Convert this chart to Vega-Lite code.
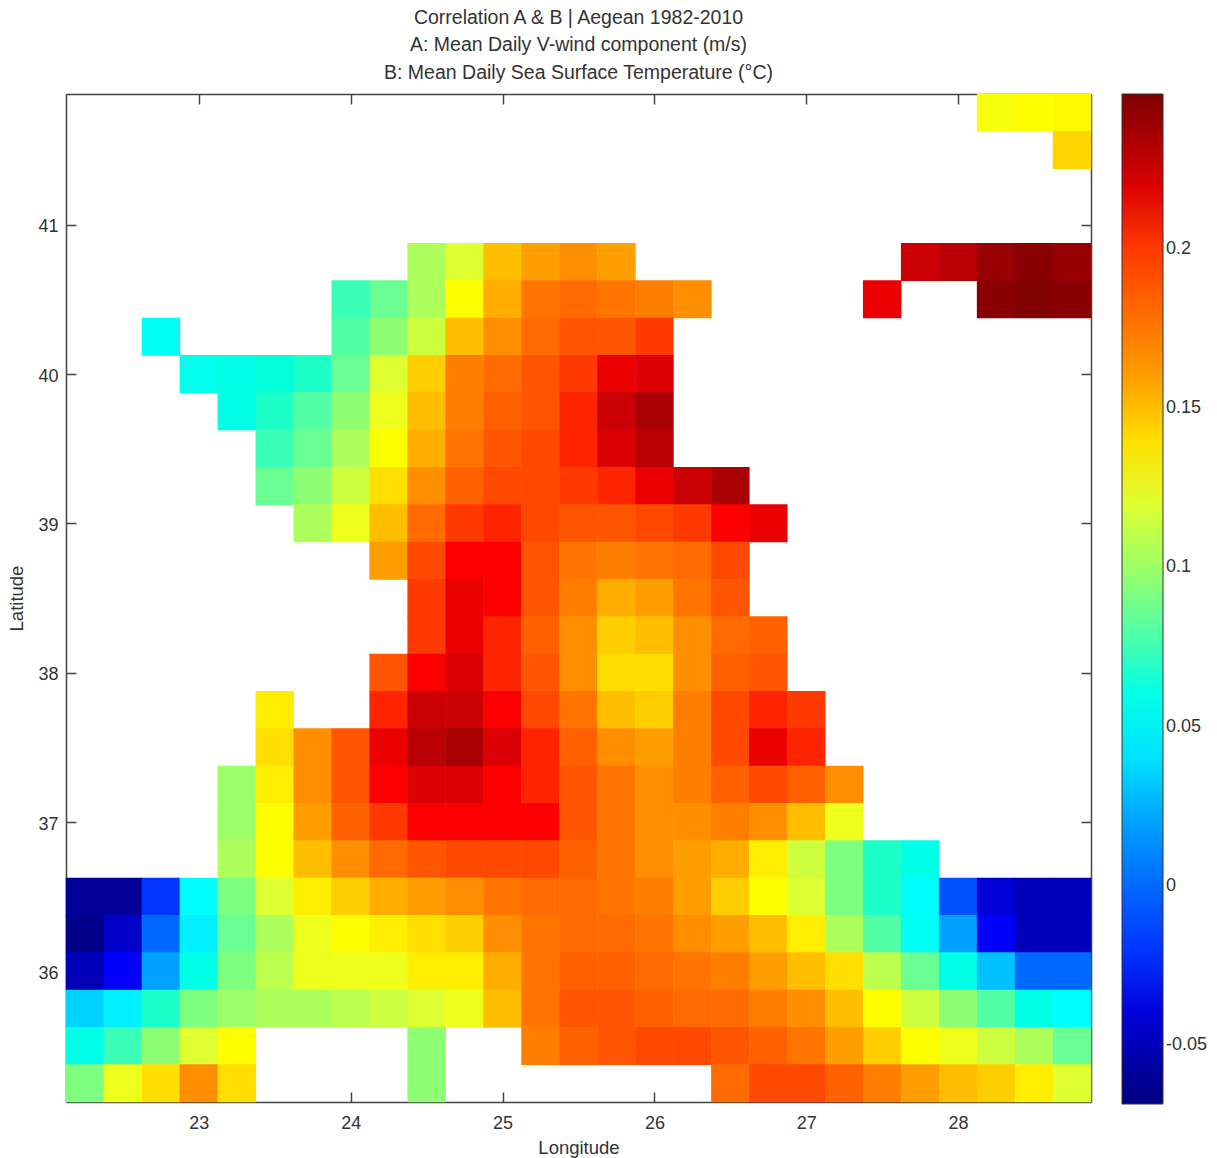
{"$schema":"https://vega.github.io/schema/vega-lite/v6.json","autosize":"none","width":1025,"height":1008,"padding":{"left":66,"top":94,"right":126,"bottom":56},"background":"white","title":{"text":["Correlation A & B | Aegean 1982-2010","A: Mean Daily V-wind component (m/s)","B: Mean Daily Sea Surface Temperature (°C)"],"font":"Liberation Sans","fontSize":19.5,"fontWeight":"normal","color":"#333333","lineHeight":27.5,"anchor":"middle","offset":10,"frame":"group"},"config":{"view":{"stroke":null},"axis":{"grid":false,"labelFont":"Liberation Sans","titleFont":"Liberation Sans","labelFontSize":18,"titleFontSize":18.5,"titleFontWeight":"normal","labelColor":"#333333","titleColor":"#333333","domainColor":"#444444","tickColor":"#444444","tickSize":-10,"domainWidth":1.5,"tickWidth":1.5}},"data":{"values":[
{"lon":28.25,"lat":41.75,"r":0.128},{"lon":28.5,"lat":41.75,"r":0.13},{"lon":28.75,"lat":41.75,"r":0.132},{"lon":28.75,"lat":41.5,"r":0.143},
{"lon":24.5,"lat":40.75,"r":0.105},{"lon":24.75,"lat":40.75,"r":0.12},{"lon":25,"lat":40.75,"r":0.15},{"lon":25.25,"lat":40.75,"r":0.16},{"lon":25.5,"lat":40.75,"r":0.165},{"lon":25.75,"lat":40.75,"r":0.16},{"lon":27.75,"lat":40.75,"r":0.225},{"lon":28,"lat":40.75,"r":0.23},{"lon":28.25,"lat":40.75,"r":0.24},{"lon":28.5,"lat":40.75,"r":0.245},{"lon":28.75,"lat":40.75,"r":0.24},
{"lon":24,"lat":40.5,"r":0.075},{"lon":24.25,"lat":40.5,"r":0.085},{"lon":24.5,"lat":40.5,"r":0.105},{"lon":24.75,"lat":40.5,"r":0.13},{"lon":25,"lat":40.5,"r":0.155},{"lon":25.25,"lat":40.5,"r":0.175},{"lon":25.5,"lat":40.5,"r":0.18},{"lon":25.75,"lat":40.5,"r":0.175},{"lon":26,"lat":40.5,"r":0.17},{"lon":26.25,"lat":40.5,"r":0.165},{"lon":27.5,"lat":40.5,"r":0.215},{"lon":28.25,"lat":40.5,"r":0.245},{"lon":28.5,"lat":40.5,"r":0.248},{"lon":28.75,"lat":40.5,"r":0.245},
{"lon":22.75,"lat":40.25,"r":0.055},{"lon":24,"lat":40.25,"r":0.08},{"lon":24.25,"lat":40.25,"r":0.095},{"lon":24.5,"lat":40.25,"r":0.115},{"lon":24.75,"lat":40.25,"r":0.15},{"lon":25,"lat":40.25,"r":0.165},{"lon":25.25,"lat":40.25,"r":0.18},{"lon":25.5,"lat":40.25,"r":0.19},{"lon":25.75,"lat":40.25,"r":0.19},{"lon":26,"lat":40.25,"r":0.2},
{"lon":23,"lat":40,"r":0.058},{"lon":23.25,"lat":40,"r":0.06},{"lon":23.5,"lat":40,"r":0.065},{"lon":23.75,"lat":40,"r":0.07},{"lon":24,"lat":40,"r":0.085},{"lon":24.25,"lat":40,"r":0.12},{"lon":24.5,"lat":40,"r":0.145},{"lon":24.75,"lat":40,"r":0.17},{"lon":25,"lat":40,"r":0.18},{"lon":25.25,"lat":40,"r":0.19},{"lon":25.5,"lat":40,"r":0.2},{"lon":25.75,"lat":40,"r":0.215},{"lon":26,"lat":40,"r":0.22},
{"lon":23.25,"lat":39.75,"r":0.06},{"lon":23.5,"lat":39.75,"r":0.07},{"lon":23.75,"lat":39.75,"r":0.08},{"lon":24,"lat":39.75,"r":0.095},{"lon":24.25,"lat":39.75,"r":0.125},{"lon":24.5,"lat":39.75,"r":0.15},{"lon":24.75,"lat":39.75,"r":0.17},{"lon":25,"lat":39.75,"r":0.185},{"lon":25.25,"lat":39.75,"r":0.19},{"lon":25.5,"lat":39.75,"r":0.205},{"lon":25.75,"lat":39.75,"r":0.225},{"lon":26,"lat":39.75,"r":0.235},
{"lon":23.5,"lat":39.5,"r":0.075},{"lon":23.75,"lat":39.5,"r":0.085},{"lon":24,"lat":39.5,"r":0.105},{"lon":24.25,"lat":39.5,"r":0.13},{"lon":24.5,"lat":39.5,"r":0.155},{"lon":24.75,"lat":39.5,"r":0.175},{"lon":25,"lat":39.5,"r":0.19},{"lon":25.25,"lat":39.5,"r":0.195},{"lon":25.5,"lat":39.5,"r":0.205},{"lon":25.75,"lat":39.5,"r":0.22},{"lon":26,"lat":39.5,"r":0.23},
{"lon":23.5,"lat":39.25,"r":0.085},{"lon":23.75,"lat":39.25,"r":0.095},{"lon":24,"lat":39.25,"r":0.115},{"lon":24.25,"lat":39.25,"r":0.14},{"lon":24.5,"lat":39.25,"r":0.165},{"lon":24.75,"lat":39.25,"r":0.185},{"lon":25,"lat":39.25,"r":0.195},{"lon":25.25,"lat":39.25,"r":0.195},{"lon":25.5,"lat":39.25,"r":0.2},{"lon":25.75,"lat":39.25,"r":0.205},{"lon":26,"lat":39.25,"r":0.215},{"lon":26.25,"lat":39.25,"r":0.225},{"lon":26.5,"lat":39.25,"r":0.235},
{"lon":23.75,"lat":39,"r":0.105},{"lon":24,"lat":39,"r":0.125},{"lon":24.25,"lat":39,"r":0.15},{"lon":24.5,"lat":39,"r":0.18},{"lon":24.75,"lat":39,"r":0.2},{"lon":25,"lat":39,"r":0.205},{"lon":25.25,"lat":39,"r":0.195},{"lon":25.5,"lat":39,"r":0.19},{"lon":25.75,"lat":39,"r":0.19},{"lon":26,"lat":39,"r":0.195},{"lon":26.25,"lat":39,"r":0.2},{"lon":26.5,"lat":39,"r":0.21},{"lon":26.75,"lat":39,"r":0.215},
{"lon":24.25,"lat":38.75,"r":0.16},{"lon":24.5,"lat":38.75,"r":0.195},{"lon":24.75,"lat":38.75,"r":0.21},{"lon":25,"lat":38.75,"r":0.21},{"lon":25.25,"lat":38.75,"r":0.19},{"lon":25.5,"lat":38.75,"r":0.175},{"lon":25.75,"lat":38.75,"r":0.17},{"lon":26,"lat":38.75,"r":0.175},{"lon":26.25,"lat":38.75,"r":0.18},{"lon":26.5,"lat":38.75,"r":0.195},
{"lon":24.5,"lat":38.5,"r":0.2},{"lon":24.75,"lat":38.5,"r":0.215},{"lon":25,"lat":38.5,"r":0.21},{"lon":25.25,"lat":38.5,"r":0.19},{"lon":25.5,"lat":38.5,"r":0.17},{"lon":25.75,"lat":38.5,"r":0.155},{"lon":26,"lat":38.5,"r":0.16},{"lon":26.25,"lat":38.5,"r":0.175},{"lon":26.5,"lat":38.5,"r":0.19},
{"lon":24.5,"lat":38.25,"r":0.2},{"lon":24.75,"lat":38.25,"r":0.215},{"lon":25,"lat":38.25,"r":0.205},{"lon":25.25,"lat":38.25,"r":0.185},{"lon":25.5,"lat":38.25,"r":0.165},{"lon":25.75,"lat":38.25,"r":0.145},{"lon":26,"lat":38.25,"r":0.15},{"lon":26.25,"lat":38.25,"r":0.165},{"lon":26.5,"lat":38.25,"r":0.18},{"lon":26.75,"lat":38.25,"r":0.185},
{"lon":24.25,"lat":38,"r":0.19},{"lon":24.5,"lat":38,"r":0.21},{"lon":24.75,"lat":38,"r":0.22},{"lon":25,"lat":38,"r":0.205},{"lon":25.25,"lat":38,"r":0.19},{"lon":25.5,"lat":38,"r":0.165},{"lon":25.75,"lat":38,"r":0.14},{"lon":26,"lat":38,"r":0.14},{"lon":26.25,"lat":38,"r":0.165},{"lon":26.5,"lat":38,"r":0.185},{"lon":26.75,"lat":38,"r":0.19},
{"lon":23.5,"lat":37.75,"r":0.135},{"lon":24.25,"lat":37.75,"r":0.205},{"lon":24.5,"lat":37.75,"r":0.225},{"lon":24.75,"lat":37.75,"r":0.225},{"lon":25,"lat":37.75,"r":0.21},{"lon":25.25,"lat":37.75,"r":0.195},{"lon":25.5,"lat":37.75,"r":0.175},{"lon":25.75,"lat":37.75,"r":0.15},{"lon":26,"lat":37.75,"r":0.145},{"lon":26.25,"lat":37.75,"r":0.17},{"lon":26.5,"lat":37.75,"r":0.195},{"lon":26.75,"lat":37.75,"r":0.205},{"lon":27,"lat":37.75,"r":0.2},
{"lon":23.5,"lat":37.5,"r":0.14},{"lon":23.75,"lat":37.5,"r":0.165},{"lon":24,"lat":37.5,"r":0.19},{"lon":24.25,"lat":37.5,"r":0.215},{"lon":24.5,"lat":37.5,"r":0.23},{"lon":24.75,"lat":37.5,"r":0.235},{"lon":25,"lat":37.5,"r":0.22},{"lon":25.25,"lat":37.5,"r":0.205},{"lon":25.5,"lat":37.5,"r":0.185},{"lon":25.75,"lat":37.5,"r":0.165},{"lon":26,"lat":37.5,"r":0.16},{"lon":26.25,"lat":37.5,"r":0.17},{"lon":26.5,"lat":37.5,"r":0.195},{"lon":26.75,"lat":37.5,"r":0.215},{"lon":27,"lat":37.5,"r":0.205},
{"lon":23.25,"lat":37.25,"r":0.1},{"lon":23.5,"lat":37.25,"r":0.135},{"lon":23.75,"lat":37.25,"r":0.165},{"lon":24,"lat":37.25,"r":0.19},{"lon":24.25,"lat":37.25,"r":0.21},{"lon":24.5,"lat":37.25,"r":0.22},{"lon":24.75,"lat":37.25,"r":0.22},{"lon":25,"lat":37.25,"r":0.21},{"lon":25.25,"lat":37.25,"r":0.205},{"lon":25.5,"lat":37.25,"r":0.19},{"lon":25.75,"lat":37.25,"r":0.175},{"lon":26,"lat":37.25,"r":0.165},{"lon":26.25,"lat":37.25,"r":0.17},{"lon":26.5,"lat":37.25,"r":0.185},{"lon":26.75,"lat":37.25,"r":0.195},{"lon":27,"lat":37.25,"r":0.185},{"lon":27.25,"lat":37.25,"r":0.165},
{"lon":23.25,"lat":37,"r":0.1},{"lon":23.5,"lat":37,"r":0.13},{"lon":23.75,"lat":37,"r":0.16},{"lon":24,"lat":37,"r":0.185},{"lon":24.25,"lat":37,"r":0.2},{"lon":24.5,"lat":37,"r":0.21},{"lon":24.75,"lat":37,"r":0.21},{"lon":25,"lat":37,"r":0.21},{"lon":25.25,"lat":37,"r":0.21},{"lon":25.5,"lat":37,"r":0.19},{"lon":25.75,"lat":37,"r":0.175},{"lon":26,"lat":37,"r":0.165},{"lon":26.25,"lat":37,"r":0.165},{"lon":26.5,"lat":37,"r":0.17},{"lon":26.75,"lat":37,"r":0.165},{"lon":27,"lat":37,"r":0.15},{"lon":27.25,"lat":37,"r":0.125},
{"lon":23.25,"lat":36.75,"r":0.105},{"lon":23.5,"lat":36.75,"r":0.13},{"lon":23.75,"lat":36.75,"r":0.15},{"lon":24,"lat":36.75,"r":0.165},{"lon":24.25,"lat":36.75,"r":0.18},{"lon":24.5,"lat":36.75,"r":0.19},{"lon":24.75,"lat":36.75,"r":0.195},{"lon":25,"lat":36.75,"r":0.195},{"lon":25.25,"lat":36.75,"r":0.195},{"lon":25.5,"lat":36.75,"r":0.185},{"lon":25.75,"lat":36.75,"r":0.175},{"lon":26,"lat":36.75,"r":0.165},{"lon":26.25,"lat":36.75,"r":0.16},{"lon":26.5,"lat":36.75,"r":0.155},{"lon":26.75,"lat":36.75,"r":0.135},{"lon":27,"lat":36.75,"r":0.115},{"lon":27.25,"lat":36.75,"r":0.09},{"lon":27.5,"lat":36.75,"r":0.07},{"lon":27.75,"lat":36.75,"r":0.06},
{"lon":22.25,"lat":36.5,"r":-0.06},{"lon":22.5,"lat":36.5,"r":-0.06},{"lon":22.75,"lat":36.5,"r":-0.02},{"lon":23,"lat":36.5,"r":0.05},{"lon":23.25,"lat":36.5,"r":0.09},{"lon":23.5,"lat":36.5,"r":0.12},{"lon":23.75,"lat":36.5,"r":0.135},{"lon":24,"lat":36.5,"r":0.145},{"lon":24.25,"lat":36.5,"r":0.155},{"lon":24.5,"lat":36.5,"r":0.16},{"lon":24.75,"lat":36.5,"r":0.165},{"lon":25,"lat":36.5,"r":0.175},{"lon":25.25,"lat":36.5,"r":0.18},{"lon":25.5,"lat":36.5,"r":0.18},{"lon":25.75,"lat":36.5,"r":0.175},{"lon":26,"lat":36.5,"r":0.17},{"lon":26.25,"lat":36.5,"r":0.16},{"lon":26.5,"lat":36.5,"r":0.145},{"lon":26.75,"lat":36.5,"r":0.13},{"lon":27,"lat":36.5,"r":0.12},{"lon":27.25,"lat":36.5,"r":0.09},{"lon":27.5,"lat":36.5,"r":0.07},{"lon":27.75,"lat":36.5,"r":0.05},{"lon":28,"lat":36.5,"r":-0.01},{"lon":28.25,"lat":36.5,"r":-0.04},{"lon":28.5,"lat":36.5,"r":-0.05},{"lon":28.75,"lat":36.5,"r":-0.05},
{"lon":22.25,"lat":36.25,"r":-0.065},{"lon":22.5,"lat":36.25,"r":-0.045},{"lon":22.75,"lat":36.25,"r":0},{"lon":23,"lat":36.25,"r":0.045},{"lon":23.25,"lat":36.25,"r":0.085},{"lon":23.5,"lat":36.25,"r":0.105},{"lon":23.75,"lat":36.25,"r":0.125},{"lon":24,"lat":36.25,"r":0.13},{"lon":24.25,"lat":36.25,"r":0.135},{"lon":24.5,"lat":36.25,"r":0.14},{"lon":24.75,"lat":36.25,"r":0.145},{"lon":25,"lat":36.25,"r":0.165},{"lon":25.25,"lat":36.25,"r":0.175},{"lon":25.5,"lat":36.25,"r":0.18},{"lon":25.75,"lat":36.25,"r":0.18},{"lon":26,"lat":36.25,"r":0.175},{"lon":26.25,"lat":36.25,"r":0.165},{"lon":26.5,"lat":36.25,"r":0.16},{"lon":26.75,"lat":36.25,"r":0.15},{"lon":27,"lat":36.25,"r":0.135},{"lon":27.25,"lat":36.25,"r":0.105},{"lon":27.5,"lat":36.25,"r":0.08},{"lon":27.75,"lat":36.25,"r":0.055},{"lon":28,"lat":36.25,"r":0.02},{"lon":28.25,"lat":36.25,"r":-0.03},{"lon":28.5,"lat":36.25,"r":-0.05},{"lon":28.75,"lat":36.25,"r":-0.05},
{"lon":22.25,"lat":36,"r":-0.05},{"lon":22.5,"lat":36,"r":-0.03},{"lon":22.75,"lat":36,"r":0.02},{"lon":23,"lat":36,"r":0.06},{"lon":23.25,"lat":36,"r":0.09},{"lon":23.5,"lat":36,"r":0.11},{"lon":23.75,"lat":36,"r":0.125},{"lon":24,"lat":36,"r":0.125},{"lon":24.25,"lat":36,"r":0.125},{"lon":24.5,"lat":36,"r":0.135},{"lon":24.75,"lat":36,"r":0.135},{"lon":25,"lat":36,"r":0.155},{"lon":25.25,"lat":36,"r":0.175},{"lon":25.5,"lat":36,"r":0.185},{"lon":25.75,"lat":36,"r":0.185},{"lon":26,"lat":36,"r":0.18},{"lon":26.25,"lat":36,"r":0.175},{"lon":26.5,"lat":36,"r":0.17},{"lon":26.75,"lat":36,"r":0.16},{"lon":27,"lat":36,"r":0.15},{"lon":27.25,"lat":36,"r":0.14},{"lon":27.5,"lat":36,"r":0.11},{"lon":27.75,"lat":36,"r":0.085},{"lon":28,"lat":36,"r":0.06},{"lon":28.25,"lat":36,"r":0.03},{"lon":28.5,"lat":36,"r":0},{"lon":28.75,"lat":36,"r":0},
{"lon":22.25,"lat":35.75,"r":0.035},{"lon":22.5,"lat":35.75,"r":0.045},{"lon":22.75,"lat":35.75,"r":0.07},{"lon":23,"lat":35.75,"r":0.09},{"lon":23.25,"lat":35.75,"r":0.1},{"lon":23.5,"lat":35.75,"r":0.105},{"lon":23.75,"lat":35.75,"r":0.105},{"lon":24,"lat":35.75,"r":0.11},{"lon":24.25,"lat":35.75,"r":0.115},{"lon":24.5,"lat":35.75,"r":0.12},{"lon":24.75,"lat":35.75,"r":0.125},{"lon":25,"lat":35.75,"r":0.15},{"lon":25.25,"lat":35.75,"r":0.175},{"lon":25.5,"lat":35.75,"r":0.19},{"lon":25.75,"lat":35.75,"r":0.19},{"lon":26,"lat":35.75,"r":0.185},{"lon":26.25,"lat":35.75,"r":0.18},{"lon":26.5,"lat":35.75,"r":0.18},{"lon":26.75,"lat":35.75,"r":0.17},{"lon":27,"lat":35.75,"r":0.165},{"lon":27.25,"lat":35.75,"r":0.15},{"lon":27.5,"lat":35.75,"r":0.13},{"lon":27.75,"lat":35.75,"r":0.115},{"lon":28,"lat":35.75,"r":0.095},{"lon":28.25,"lat":35.75,"r":0.08},{"lon":28.5,"lat":35.75,"r":0.06},{"lon":28.75,"lat":35.75,"r":0.05},
{"lon":22.25,"lat":35.5,"r":0.06},{"lon":22.5,"lat":35.5,"r":0.075},{"lon":22.75,"lat":35.5,"r":0.095},{"lon":23,"lat":35.5,"r":0.12},{"lon":23.25,"lat":35.5,"r":0.13},{"lon":24.5,"lat":35.5,"r":0.095},{"lon":25.25,"lat":35.5,"r":0.17},{"lon":25.5,"lat":35.5,"r":0.185},{"lon":25.75,"lat":35.5,"r":0.19},{"lon":26,"lat":35.5,"r":0.195},{"lon":26.25,"lat":35.5,"r":0.195},{"lon":26.5,"lat":35.5,"r":0.19},{"lon":26.75,"lat":35.5,"r":0.185},{"lon":27,"lat":35.5,"r":0.175},{"lon":27.25,"lat":35.5,"r":0.16},{"lon":27.5,"lat":35.5,"r":0.145},{"lon":27.75,"lat":35.5,"r":0.13},{"lon":28,"lat":35.5,"r":0.125},{"lon":28.25,"lat":35.5,"r":0.115},{"lon":28.5,"lat":35.5,"r":0.105},{"lon":28.75,"lat":35.5,"r":0.085},
{"lon":22.25,"lat":35.25,"r":0.09},{"lon":22.5,"lat":35.25,"r":0.125},{"lon":22.75,"lat":35.25,"r":0.14},{"lon":23,"lat":35.25,"r":0.165},{"lon":23.25,"lat":35.25,"r":0.14},{"lon":24.5,"lat":35.25,"r":0.095},{"lon":26.5,"lat":35.25,"r":0.18},{"lon":26.75,"lat":35.25,"r":0.195},{"lon":27,"lat":35.25,"r":0.195},{"lon":27.25,"lat":35.25,"r":0.185},{"lon":27.5,"lat":35.25,"r":0.17},{"lon":27.75,"lat":35.25,"r":0.16},{"lon":28,"lat":35.25,"r":0.15},{"lon":28.25,"lat":35.25,"r":0.145},{"lon":28.5,"lat":35.25,"r":0.135},{"lon":28.75,"lat":35.25,"r":0.12}
]},"layer":[{"mark":{"type":"rect","width":38.5,"height":38},"encoding":{"x":{"field":"lon","type":"quantitative","scale":{"domain":[22.125,28.875],"nice":false,"zero":false},"axis":{"orient":"bottom","title":"Longitude","values":[23,24,25,26,27,28],"format":"d","labelPadding":22,"titlePadding":6,"labelFlush":false}},"y":{"field":"lat","type":"quantitative","scale":{"domain":[35.125,41.875],"nice":false,"zero":false},"axis":{"orient":"left","title":"Latitude","values":[36,37,38,39,40,41],"format":"d","labelPadding":18,"titlePadding":11,"labelFlush":false,"labelOffset":2}},"color":{"field":"r","type":"quantitative","scale":{"domain":[-0.0684,-0.0288,0.0109,0.0505,0.0901,0.1297,0.1694,0.209,0.2486],"range":["#00007f","#0000ff","#007fff","#00ffff","#7fff7f","#ffff00","#ff7f00","#ff0000","#7f0000"]},"legend":{"orient":"none","legendX":1056,"legendY":0,"title":null,"direction":"vertical","gradientLength":1010,"gradientThickness":41,"gradientStrokeColor":"#333333","gradientStrokeWidth":1,"values":[-0.05,0,0.05,0.1,0.15,0.2],"labelExpr":"''+datum.value","labelFont":"Liberation Sans","labelFontSize":18,"labelColor":"#333333","labelOverlap":false,"labelOffset":3}}}},{"mark":{"type":"rect","width":38.5,"height":38,"opacity":0},"encoding":{"x":{"field":"lon","type":"quantitative","axis":{"orient":"top","title":null,"values":[23,24,25,26,27,28],"labels":false}},"y":{"field":"lat","type":"quantitative","axis":{"orient":"right","title":null,"values":[36,37,38,39,40,41],"labels":false}}}}],"resolve":{"axis":{"x":"independent","y":"independent"}}}
